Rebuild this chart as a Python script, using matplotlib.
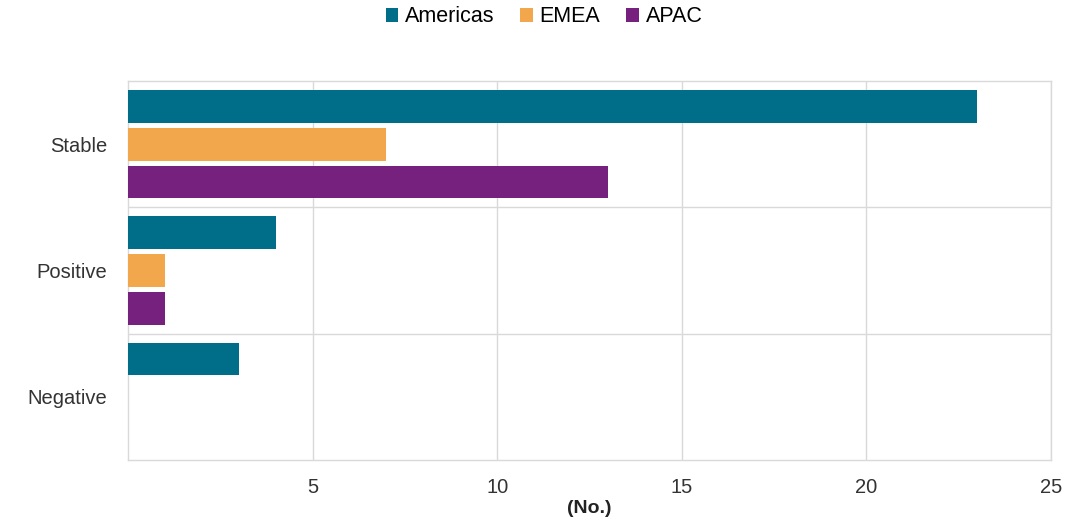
import matplotlib.pyplot as plt
from matplotlib.patches import Patch
import numpy as np

categories = ["Stable", "Positive", "Negative"]
americas = [23, 4, 3]
emea = [7, 1, 0]
apac = [13, 1, 0]
x_ticks = [5, 10, 15, 20, 25]

series = [("Americas", americas, "#006e89"),
          ("EMEA", emea, "#f2a74c"),
          ("APAC", apac, "#77217f")]

grid_col = "#d9d9d9"
text_col = "#333333"
font = "Liberation Sans"

fig = plt.figure(figsize=(10.88, 5.2), dpi=100)
ax = fig.add_axes([0.1176, 0.1154, 0.8484, 0.7288])

y = np.arange(len(categories))
bar_h = 0.26
step = 0.30
for i, (name, vals, col) in enumerate(series):
    ax.barh(y + (i - 1) * step, vals, height=bar_h, color=col,
            linewidth=0, zorder=3)

ax.set_xlim(0, 25)
ax.set_ylim(len(categories) - 0.5, -0.5)
ax.set_xticks(x_ticks)
ax.set_xticklabels([str(t) for t in x_ticks], fontsize=14.5, color=text_col,
                   family=font)
ax.set_yticks(y)
ax.set_yticklabels(categories, fontsize=14.5, color=text_col, family=font)
ax.tick_params(axis="both", length=0)
ax.tick_params(axis="x", pad=13)
ax.tick_params(axis="y", pad=15)

# vertical gridlines and category separators
ax.grid(axis="x", color=grid_col, linewidth=1, zorder=0)
for b in np.arange(0.5, len(categories) - 0.5, 1):
    ax.axhline(b, color=grid_col, linewidth=1, zorder=1)
for s in ax.spines.values():
    s.set_color(grid_col)
    s.set_linewidth(1)

ax.set_xlabel("(No.)", fontsize=14, fontweight="bold", color="#222222",
              family=font, labelpad=2)

handles = [Patch(facecolor=c, label=n) for n, _, c in series]
fig.legend(handles=handles, loc="upper center", bbox_to_anchor=(0.5, 1.025),
           ncol=3, frameon=False, handlelength=0.6, handleheight=0.6,
           handletextpad=0.3, columnspacing=1.2,
           prop={"family": font, "size": 15.5})

fig.savefig("out.png", dpi=100)
